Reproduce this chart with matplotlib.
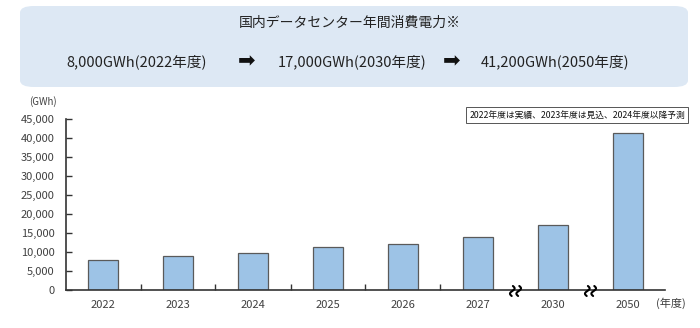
import numpy as np
import matplotlib
matplotlib.use("Agg")
import matplotlib.pyplot as plt
import matplotlib.transforms as mtransforms
from matplotlib.patches import FancyBboxPatch

plt.rcParams['font.family'] = ['Noto Sans CJK JP', 'DejaVu Sans']

years = ['2022', '2023', '2024', '2025', '2026', '2027', '2030', '2050']
power_gwh = [8000, 9000, 9800, 11200, 12100, 13900, 17000, 41200]
yticks = [0, 5000, 10000, 15000, 20000, 25000, 30000, 35000, 40000, 45000]
title = '国内データセンター年間消費電力※'
summary = ['8,000GWh(2022年度)', '17,000GWh(2030年度)', '41,200GWh(2050年度)']
note = '2022年度は実績、2023年度は見込、2024年度以降予測'

W, H = 700, 328
fig = plt.figure(figsize=(W / 100, H / 100), dpi=100)

# header box
hdr = FancyBboxPatch((20 / W, 1 - 87 / H), 668 / W, 81 / H,
                     boxstyle="round,pad=0,rounding_size=0.02",
                     transform=fig.transFigure, facecolor='#dde8f4',
                     edgecolor='none', zorder=0)
fig.patches.append(hdr)
fig.text(350 / W, 1 - 23 / H, title, ha='center', va='center', fontsize=10, color='#222222')
for xc, s in zip([137, 352, 555], summary):
    fig.text(xc / W, 1 - 62 / H, s, ha='center', va='center', fontsize=10.5, color='#222222')
for xc in [247, 452]:
    fig.text(xc / W, 1 - 61 / H, '➡', ha='center', va='center', fontsize=15,
             color='#111111', family=['DejaVu Sans'])

ax = fig.add_axes([65.5 / W, 1 - 290 / H, 600 / W, 171 / H])
x = np.arange(len(years))
ax.bar(x, power_gwh, width=0.4, color='#9dc3e6', edgecolor='#5a5a5a', linewidth=0.9, zorder=2)

ax.set_xlim(-0.5, len(years) - 0.5)
ax.set_ylim(0, 45000)
ax.set_yticks(yticks)
ax.set_yticklabels([f'{v:,}' for v in yticks])
ax.set_xticks(x)
ax.set_xticklabels(years)
ax.set_xticks([0.5, 1.5, 2.5, 3.5, 4.5], minor=True)
ax.tick_params(axis='x', which='major', length=0, pad=7, labelsize=8, labelcolor='#404040')
ax.tick_params(axis='x', which='minor', direction='in', length=4, width=1, color='#333333')
ax.tick_params(axis='y', direction='in', length=4, width=1, color='#333333',
               labelsize=8, labelcolor='#404040', pad=8)
for s in ['top', 'right']:
    ax.spines[s].set_visible(False)
for s in ['left', 'bottom']:
    ax.spines[s].set_color('#333333')
    ax.spines[s].set_linewidth(1.2)

# axis break marks
t = np.linspace(-1, 1, 60)
for xb in [5.5, 6.5]:
    tr = mtransforms.ScaledTranslation(xb, 0, ax.transData)
    for dx in [-3.2, 3.2]:
        ax.plot(dx + 2.0 * np.sin(np.pi * t) + 0.6 * t, -1 + 5 * t, color='black',
                lw=1.5, transform=tr, clip_on=False, zorder=3, solid_capstyle='round')

ax.text(656, 303, '(年度)', transform=mtransforms.Affine2D().scale(1, -1).translate(0, H),
        ha='left', va='center', fontsize=8, color='#404040')
fig.text(43 / W, 1 - 102 / H, '(GWh)', ha='center', va='center', fontsize=7, color='#404040')

ax.text(577, 115, note, transform=mtransforms.Affine2D().scale(1, -1).translate(0, H),
        ha='center', va='center', fontsize=6.3, color='#111111',
        bbox=dict(boxstyle='square,pad=0.35', facecolor='white', edgecolor='#555555', linewidth=0.7))

fig.savefig('out.png', dpi=100)
